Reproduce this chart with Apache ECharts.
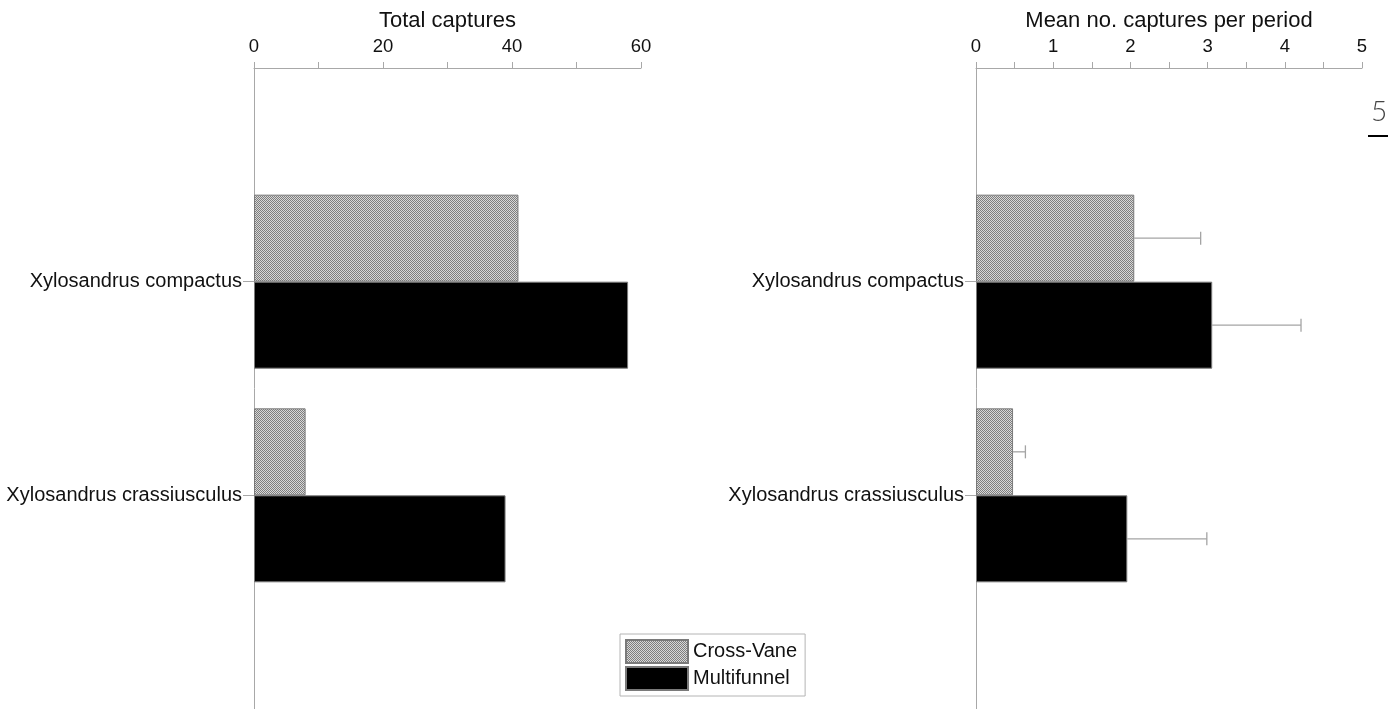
<!DOCTYPE html>
<html>
<head>
<meta charset="utf-8">
<title>Trap captures</title>
<script src="https://cdn.jsdelivr.net/npm/echarts@6/dist/echarts.min.js"></script>
<style>
  html, body { margin: 0; padding: 0; background: #fff; }
  #chart { width: 1388px; height: 709px; }
</style>
</head>
<body>
<div id="chart"></div>
<script>
// data
const categories = ['Xylosandrus compactus', 'Xylosandrus crassiusculus']
const traps = ['Cross-Vane', 'Multifunnel']
const totalCrossVane = [41, 8]
const totalMultifunnel = [58, 39]
const meanCrossVane = [2.05, 0.48]
const meanMultifunnel = [3.06, 1.96]
const upperCrossVane = [2.91, 0.64]
const upperMultifunnel = [4.21, 2.99]
const totalTickLabels = [0, 20, 40, 60]
const meanTickLabels = [0, 1, 2, 3, 4, 5]

const FONT = '"Liberation Sans", Arial, sans-serif'
const AXIS_GREY = '#a8a8a8'
const BAR_W = 87

// empty slots above and below so the axis runs past the two categories
const paddedCats = [' ', ...categories, '  ']
const isRealCat = (idx, val) => String(val).trim() !== ''

// fine grey crosshatch used for the Cross-Vane bars
function makeHatch() {
  const c = document.createElement('canvas')
  c.width = 2
  c.height = 2
  const ctx = c.getContext('2d')
  ctx.fillStyle = '#d8d8d8'
  ctx.fillRect(0, 0, 2, 2)
  ctx.fillStyle = '#7e7e7e'
  ctx.fillRect(0, 0, 1, 1)
  ctx.fillRect(1, 1, 1, 1)
  return c
}
const hatch = { image: makeHatch(), repeat: 'repeat' }

function valueAxis(gridIndex, name, max, interval, shown, nameGap) {
  return {
    gridIndex: gridIndex,
    type: 'value',
    position: 'top',
    min: 0,
    max: max,
    interval: interval,
    name: name,
    nameLocation: 'middle',
    nameGap: nameGap,
    nameTextStyle: { fontSize: 22, color: '#111', fontFamily: FONT },
    splitLine: { show: false },
    axisLine: { show: true, lineStyle: { color: AXIS_GREY, width: 1 } },
    axisTick: { show: true, length: 6, lineStyle: { color: AXIS_GREY } },
    axisLabel: {
      margin: 12,
      fontSize: 18.5,
      color: '#111',
      fontFamily: FONT,
      formatter: v => (shown.indexOf(v) >= 0 ? String(v) : '')
    }
  }
}

function catAxis(gridIndex) {
  return {
    gridIndex: gridIndex,
    type: 'category',
    inverse: true,
    boundaryGap: false,
    data: paddedCats,
    axisLine: { show: true, lineStyle: { color: AXIS_GREY, width: 1 } },
    axisTick: { show: true, length: 11, interval: isRealCat, lineStyle: { color: AXIS_GREY } },
    axisLabel: { interval: isRealCat, margin: 12, fontSize: 20, color: '#111', fontFamily: FONT }
  }
}

function barSeries(name, values, axisIndex, color) {
  return {
    name: name,
    type: 'bar',
    xAxisIndex: axisIndex,
    yAxisIndex: axisIndex,
    barWidth: BAR_W,
    barGap: '0%',
    itemStyle: { color: color, borderColor: '#7a7a7a', borderWidth: 1 },
    data: values.map((v, i) => [v, i + 1])
  }
}

function errorBars(means, uppers, offset) {
  return {
    type: 'custom',
    xAxisIndex: 1,
    yAxisIndex: 1,
    silent: true,
    data: means.map((m, i) => [m, i + 1, uppers[i]]),
    encode: { x: [0, 2], y: 1 },
    renderItem(params, api) {
      const start = api.coord([api.value(0), api.value(1)])
      const end = api.coord([api.value(2), api.value(1)])
      const y = start[1] + offset
      const style = { stroke: '#a4a4a4', lineWidth: 1.3 }
      return {
        type: 'group',
        children: [
          { type: 'line', shape: { x1: start[0], y1: y, x2: end[0], y2: y }, style: style },
          { type: 'line', shape: { x1: end[0], y1: y - 6.5, x2: end[0], y2: y + 6.5 }, style: style }
        ]
      }
    }
  }
}

const chart = echarts.init(document.getElementById('chart'), null, { renderer: 'canvas' })
chart.setOption({
  animation: false,
  backgroundColor: '#fff',
  grid: [
    { left: 254, top: 68, width: 387, bottom: -2 },
    { left: 976, top: 68, width: 386, bottom: -2 }
  ],
  xAxis: [
    valueAxis(0, 'Total captures', 60, 10, totalTickLabels, 36),
    valueAxis(1, 'Mean no. captures per period', 5, 0.5, meanTickLabels, 34)
  ],
  yAxis: [catAxis(0), catAxis(1)],
  legend: {
    data: traps,
    orient: 'vertical',
    left: 620,
    top: 634,
    itemWidth: 62,
    itemHeight: 23,
    itemGap: 2,
    padding: [5, 8, 5, 5],
    borderColor: '#b4b4b4',
    borderWidth: 1,
    icon: 'rect',
    textStyle: { fontSize: 20, color: '#111', fontFamily: FONT }
  },
  graphic: [
    { type: 'text', left: 1371, top: 98, style: { text: '5', fontSize: 28, fontWeight: 300, fill: '#444', fontFamily: 'Lato, "Open Sans", sans-serif' } },
    { type: 'rect', left: 1368, top: 135, shape: { width: 20, height: 2 }, style: { fill: '#000' } }
  ],
  series: [
    barSeries(traps[0], totalCrossVane, 0, hatch),
    barSeries(traps[1], totalMultifunnel, 0, '#000'),
    barSeries(traps[0], meanCrossVane, 1, hatch),
    barSeries(traps[1], meanMultifunnel, 1, '#000'),
    errorBars(meanCrossVane, upperCrossVane, -BAR_W / 2),
    errorBars(meanMultifunnel, upperMultifunnel, BAR_W / 2)
  ]
})
</script>
</body>
</html>
